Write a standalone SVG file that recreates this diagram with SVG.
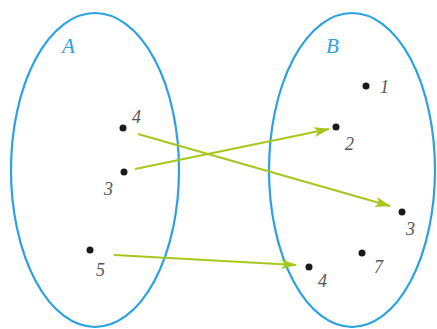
<svg xmlns="http://www.w3.org/2000/svg" width="437" height="329" viewBox="0 0 437 329">
<style>
.set{fill:none;stroke:#2ba2df;stroke-width:2.2}
.setlbl{font-family:"Liberation Serif",serif;font-style:italic;font-size:21px;fill:#2ba2df}
.dot{fill:#1a1a1a}
.num{font-family:"Liberation Serif",serif;font-style:italic;font-size:18px;fill:#555}
.arr{fill:none;stroke:#a6c81e;stroke-width:2.2}
</style>
<defs>
<marker id="ah" viewBox="0 0 16 10" refX="15" refY="5" markerWidth="7.3" markerHeight="4.6" orient="auto" markerUnits="strokeWidth">
<path d="M0,0 L16,5 L0,10 L4,5 Z" fill="#a6c81e"/>
</marker>
</defs>
<rect width="437" height="329" fill="#fff"/>
<g id="setA">
<ellipse class="set" cx="95" cy="170" rx="84" ry="157"/>
<text class="setlbl" x="62" y="53">A</text>
</g>
<g id="setB">
<ellipse class="set" cx="352" cy="170" rx="83" ry="157"/>
<text class="setlbl" x="326" y="53">B</text>
</g>
<g id="a4"><circle class="dot" cx="123" cy="128" r="3.5"/><text class="num" x="132" y="123">4</text></g>
<g id="a3"><circle class="dot" cx="124" cy="172" r="3.5"/><text class="num" x="104" y="195">3</text></g>
<g id="a5"><circle class="dot" cx="90" cy="250" r="3.5"/><text class="num" x="96" y="276">5</text></g>
<g id="b1"><circle class="dot" cx="366" cy="86" r="3.5"/><text class="num" x="380" y="93">1</text></g>
<g id="b2"><circle class="dot" cx="336" cy="127" r="3.5"/><text class="num" x="345" y="150">2</text></g>
<g id="b3"><circle class="dot" cx="402" cy="212" r="3.5"/><text class="num" x="406" y="235">3</text></g>
<g id="b7"><circle class="dot" cx="362" cy="253" r="3.5"/><text class="num" x="374" y="273">7</text></g>
<g id="b4"><circle class="dot" cx="309" cy="267" r="3.5"/><text class="num" x="318" y="287">4</text></g>
<g id="connectors">
<line class="arr" x1="135" y1="169" x2="329" y2="129" marker-end="url(#ah)"/>
<line class="arr" x1="138" y1="134" x2="390" y2="206" marker-end="url(#ah)"/>
<line class="arr" x1="114" y1="255" x2="296" y2="265" marker-end="url(#ah)"/>
</g>
</svg>
